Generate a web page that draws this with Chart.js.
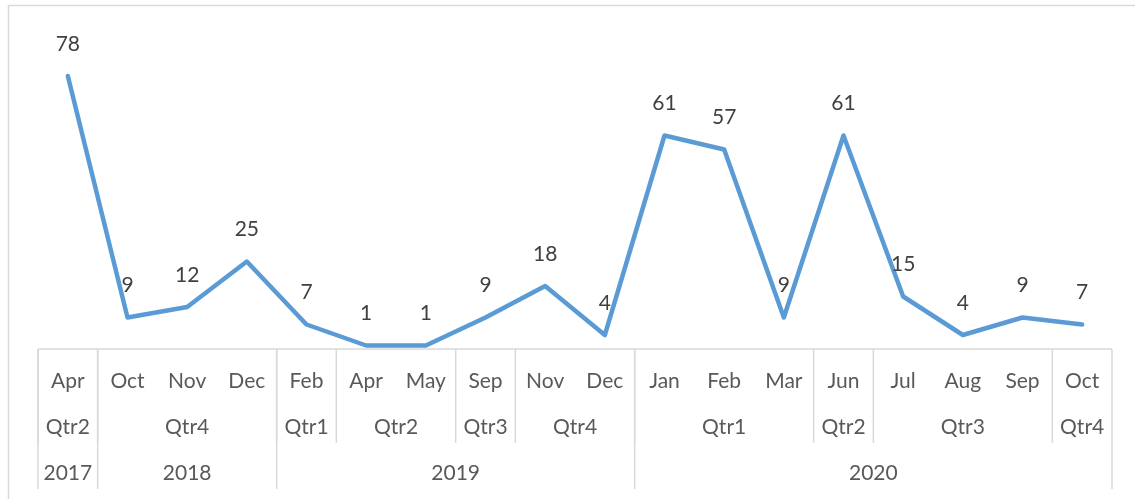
<!DOCTYPE html>
<html>
<head>
<meta charset="utf-8">
<script src="https://cdn.jsdelivr.net/npm/chart.js@4.4.0/dist/chart.umd.min.js"></script>
<style>
  html, body { margin: 0; padding: 0; background: #fff; }
  #wrap { width: 1135px; height: 499px; position: relative; }
</style>
</head>
<body>
<div id="wrap"><canvas id="myChart"></canvas></div>
<script>
// datos
const months = ["Apr", "Oct", "Nov", "Dec", "Feb", "Apr", "May", "Sep", "Nov", "Dec",
  "Jan", "Feb", "Mar", "Jun", "Jul", "Aug", "Sep", "Oct"];
const values = [78, 9, 12, 25, 7, 1, 1, 9, 18, 4, 61, 57, 9, 61, 15, 4, 9, 7];

// trimestres: etiqueta y cuantos meses abarca
const quarterLabels = ["Qtr2", "Qtr4", "Qtr1", "Qtr2", "Qtr3", "Qtr4", "Qtr1", "Qtr2", "Qtr3", "Qtr4"];
const quarterSpans = [1, 3, 1, 2, 1, 2, 3, 1, 3, 1];

// años
const yearLabels = ["2017", "2018", "2019", "2020"];
const yearSpans = [1, 3, 6, 8];

const gridColor = "#d9d9d9";
const textColor = "#595959";
const fontFamily = "Lato, 'Open Sans', sans-serif";

// plugin para el marco, los grupos del eje x y las etiquetas de datos
const grupos = {
  id: "grupos",
  beforeDraw(chart) {
    const c = chart.ctx;
    c.save();
    c.strokeStyle = gridColor;
    c.lineWidth = 1.5;
    c.beginPath();
    c.moveTo(8.5, chart.height + 5);
    c.lineTo(8.5, 5.5);
    c.lineTo(chart.width + 5, 5.5);
    c.stroke();
    c.restore();
  },
  afterDraw(chart) {
    const c = chart.ctx;
    const x = chart.scales.x;
    const area = chart.chartArea;
    const step = x.getPixelForValue(1) - x.getPixelForValue(0);
    const edge = (i) => x.getPixelForValue(i) - step / 2;
    const base = area.bottom;

    c.save();
    c.strokeStyle = gridColor;
    c.lineWidth = 1.5;

    // linea del eje
    c.beginPath();
    c.moveTo(edge(0), base);
    c.lineTo(edge(months.length), base);
    c.stroke();

    c.font = "21px " + fontFamily;
    c.fillStyle = textColor;
    c.textAlign = "center";
    c.textBaseline = "middle";

    // separadores de trimestre
    let i = 0;
    quarterSpans.forEach((n, k) => {
      c.beginPath();
      c.moveTo(edge(i), base);
      c.lineTo(edge(i), base + 94);
      c.stroke();
      c.fillText(quarterLabels[k], (edge(i) + edge(i + n)) / 2, base + 78);
      i += n;
    });

    // separadores de año
    i = 0;
    yearSpans.forEach((n, k) => {
      c.beginPath();
      c.moveTo(edge(i), base);
      c.lineTo(edge(i), base + 140);
      c.stroke();
      c.fillText(yearLabels[k], (edge(i) + edge(i + n)) / 2, base + 124);
      i += n;
    });
    c.beginPath();
    c.moveTo(edge(i), base);
    c.lineTo(edge(i), base + 140);
    c.stroke();

    // etiquetas de datos
    c.fillStyle = "#404040";
    const meta = chart.getDatasetMeta(0);
    meta.data.forEach((p, j) => {
      c.fillText(String(values[j]), p.x, p.y - 32);
    });
    c.restore();
  },
};

const ctx = document.getElementById("myChart");
new Chart(ctx, {
  type: "line",
  data: {
    labels: months,
    datasets: [
      {
        label: "Total",
        data: values,
        borderColor: "#5B9BD5",
        borderWidth: 4.5,
        borderJoinStyle: "round",
        borderCapStyle: "round",
        pointRadius: 0,
        tension: 0,
      },
    ],
  },
  options: {
    responsive: true,
    maintainAspectRatio: false,
    animation: false,
    layout: {
      padding: { left: 38, right: 23, top: 34, bottom: 10 },
    },
    plugins: {
      legend: { display: false },
      tooltip: { enabled: false },
    },
    scales: {
      x: {
        offset: true,
        grid: { display: false, drawTicks: false },
        border: { display: false },
        afterFit(scale) {
          scale.height = 140;
        },
        ticks: {
          autoSkip: false,
          maxRotation: 0,
          padding: 20,
          color: textColor,
          font: { family: fontFamily, size: 21 },
        },
      },
      y: {
        display: false,
        min: 0,
        max: 90,
      },
    },
  },
  plugins: [grupos],
});
</script>
</body>
</html>
